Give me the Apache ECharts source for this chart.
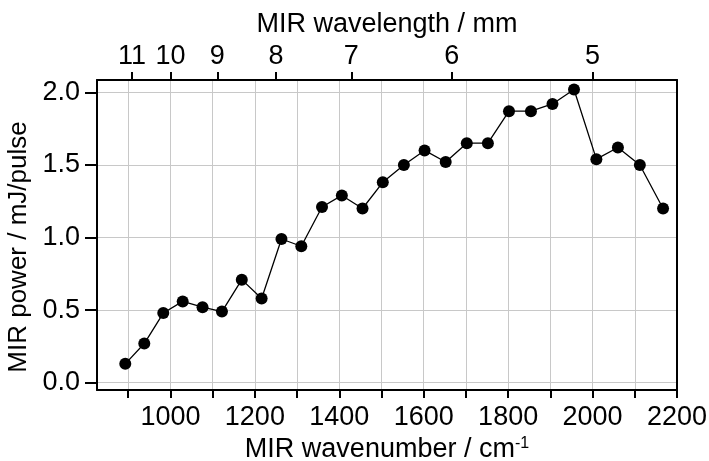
<!DOCTYPE html>
<html><head><meta charset="utf-8">
<script src="https://cdn.jsdelivr.net/npm/echarts@6/dist/echarts.min.js"></script>
<style>html,body{margin:0;padding:0;background:#fff}#c{width:709px;height:461px}</style>
</head><body><div id="c"></div>
<script>
const wavenumbers = [893, 938, 983, 1029, 1076, 1122, 1169, 1216, 1263, 1310, 1359, 1406, 1455, 1503, 1553, 1602, 1652, 1702, 1752, 1802, 1854, 1905, 1956, 2009, 2060, 2112, 2167];
const powers = [0.13, 0.27, 0.48, 0.56, 0.52, 0.49, 0.71, 0.58, 0.99, 0.94, 1.21, 1.29, 1.20, 1.38, 1.50, 1.60, 1.52, 1.65, 1.65, 1.87, 1.87, 1.92, 2.02, 1.54, 1.62, 1.50, 1.20];
const xTickValues = [900, 1000, 1100, 1200, 1300, 1400, 1500, 1600, 1700, 1800, 1900, 2000, 2100, 2200];
const xLabelValues = [1000, 1200, 1400, 1600, 1800, 2000, 2200];
const yTickValues = [0, 0.5, 1.0, 1.5, 2.0];
const wavelengthTicks = [11, 10, 9, 8, 7, 6, 5];

const FONT = 'Liberation Sans, Arial, sans-serif';
const FS = 27;
const chart = echarts.init(document.getElementById('c'), null, {renderer: 'canvas'});
const wlPositions = wavelengthTicks.map(w => 10000 / w);
chart.setOption({
  animation: false,
  backgroundColor: '#fff',
  grid: {left: 97, right: 32, top: 80, bottom: 71, containLabel: false, outerBoundsMode: 'none'},
  xAxis: [{
    type: 'value', position: 'bottom', min: 826, max: 2200,
    name: 'MIR wavenumber / cm{sup|-1}', nameLocation: 'middle', nameGap: 37,
    nameTextStyle: {fontFamily: FONT, fontSize: FS, color: '#000',
      rich: {sup: {fontFamily: FONT, fontSize: 16, color: '#000', verticalAlign: 'top', lineHeight: 16}}},
    axisLine: {onZero: false, lineStyle: {color: '#000', width: 2}},
    axisTick: {show: true, length: 8, customValues: xTickValues, lineStyle: {color: '#000', width: 2}},
    axisLabel: {customValues: xLabelValues, margin: 14, fontFamily: FONT, fontSize: FS, color: '#000',
      formatter: v => String(v)},
    splitLine: {show: true, lineStyle: {color: '#c8c8c8', width: 1}}
  }, {
    type: 'value', position: 'top', min: 826, max: 2200,
    name: 'MIR wavelength / mm', nameLocation: 'middle', nameGap: 41,
    nameTextStyle: {fontFamily: FONT, fontSize: FS, color: '#000'},
    axisLine: {onZero: false, lineStyle: {color: '#000', width: 2}},
    axisTick: {show: true, length: 8, customValues: wlPositions, lineStyle: {color: '#000', width: 2}},
    axisLabel: {customValues: wlPositions, margin: 10, fontFamily: FONT, fontSize: FS, color: '#000',
      formatter: v => String(Math.round(10000 / v))},
    splitLine: {show: false}
  }],
  yAxis: [{
    type: 'value', position: 'left', min: -0.05, max: 2.085,
    name: 'MIR power / mJ/pulse', nameLocation: 'middle', nameGap: 60, nameRotate: 90,
    nameTextStyle: {fontFamily: FONT, fontSize: 26, color: '#000', padding: [0, 24, 0, 0]},
    axisLine: {show: true, onZero: false, lineStyle: {color: '#000', width: 2}},
    axisTick: {show: true, length: 12, customValues: yTickValues, lineStyle: {color: '#000', width: 2}},
    axisLabel: {customValues: yTickValues, margin: 17, fontFamily: FONT, fontSize: FS, color: '#000',
      formatter: v => v.toFixed(1)},
    splitLine: {show: true, lineStyle: {color: '#c8c8c8', width: 1}}
  }, {
    type: 'value', position: 'right', min: -0.05, max: 2.085,
    axisLine: {show: true, onZero: false, lineStyle: {color: '#000', width: 2}},
    axisTick: {show: false}, axisLabel: {show: false}, splitLine: {show: false}
  }],
  series: [{
    type: 'line', xAxisIndex: 0, yAxisIndex: 0,
    data: wavenumbers.map((x, i) => [x, powers[i]]),
    symbol: 'circle', symbolSize: 12,
    itemStyle: {color: '#000'},
    lineStyle: {color: '#000', width: 1.3}
  }]
});
</script></body></html>
